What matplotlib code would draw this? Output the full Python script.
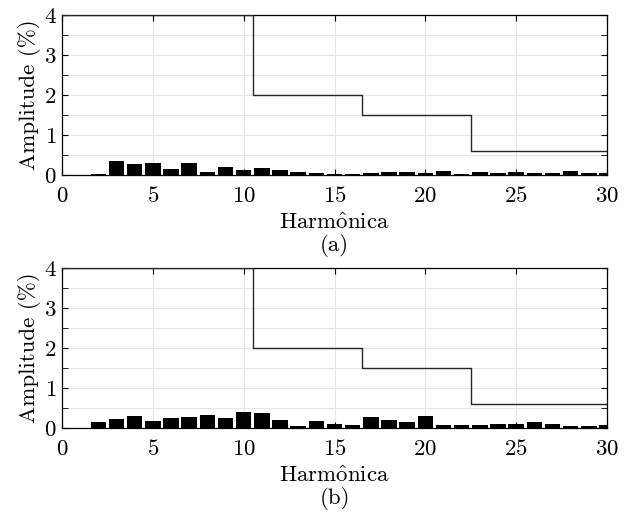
import numpy as np
import matplotlib
matplotlib.use("Agg")
import matplotlib.pyplot as plt
from matplotlib.ticker import MultipleLocator

plt.rcParams["font.family"] = "serif"
plt.rcParams["font.serif"] = ["cmr10"]
plt.rcParams["mathtext.fontset"] = "cm"
plt.rcParams["axes.formatter.use_mathtext"] = True

# harmonic orders and amplitudes (% of fundamental)
harmonics = np.arange(2, 31)
amp_a = [0.04, 0.36, 0.275, 0.31, 0.15, 0.31, 0.08, 0.21, 0.12, 0.175,
         0.125, 0.075, 0.06, 0.03, 0.04, 0.06, 0.08, 0.07, 0.05, 0.11,
         0.03, 0.075, 0.05, 0.08, 0.06, 0.06, 0.11, 0.05, 0.06]
amp_b = [0.16, 0.235, 0.30, 0.175, 0.26, 0.285, 0.33, 0.245, 0.39, 0.37,
         0.20, 0.04, 0.175, 0.09, 0.075, 0.275, 0.21, 0.15, 0.31, 0.085,
         0.085, 0.085, 0.11, 0.09, 0.14, 0.09, 0.06, 0.06, 0.075]

# standard limit (step curve)
limit_h = [0, 10.5, 10.5, 16.5, 16.5, 22.5, 22.5, 30]
limit_v = [4, 4, 2, 2, 1.5, 1.5, 0.6, 0.6]

captions = ["(a)", "(b)"]
xlabel = r"Harm$\hat{\mathrm{o}}$nica"
FS = 16.5


def draw(ax, amp):
    ax.bar(harmonics, amp, width=0.85, color="black", zorder=3)
    ax.plot(limit_h, limit_v, color="0.15", lw=1.0, zorder=4)
    ax.set_xlim(0, 30)
    ax.set_ylim(0, 4)
    ax.xaxis.set_major_locator(MultipleLocator(5))
    ax.yaxis.set_major_locator(MultipleLocator(1))
    ax.yaxis.set_minor_locator(MultipleLocator(0.5))
    ax.grid(True, which="both", color="0.9", lw=0.8, zorder=0)
    ax.tick_params(which="both", direction="in", top=True, right=True,
                   labelsize=FS, length=4)
    ax.tick_params(axis="x", pad=8)
    ax.tick_params(axis="y", pad=4)
    ax.set_xlabel(xlabel, fontsize=FS, labelpad=5)
    ax.set_ylabel("Amplitude (%)", fontsize=FS, labelpad=2)
    for s in ax.spines.values():
        s.set_linewidth(0.9)


fig = plt.figure(figsize=(6.29, 5.12), dpi=100)
ax1 = fig.add_axes([0.0986, 0.658, 0.8665, 0.3125])
ax2 = fig.add_axes([0.0986, 0.164, 0.8665, 0.3125])
draw(ax1, amp_a)
draw(ax2, amp_b)
fig.text(0.532, 0.521, captions[0], ha="center", va="center", fontsize=FS)
fig.text(0.532, 0.027, captions[1], ha="center", va="center", fontsize=FS)

fig.savefig("out.png", dpi=100)
